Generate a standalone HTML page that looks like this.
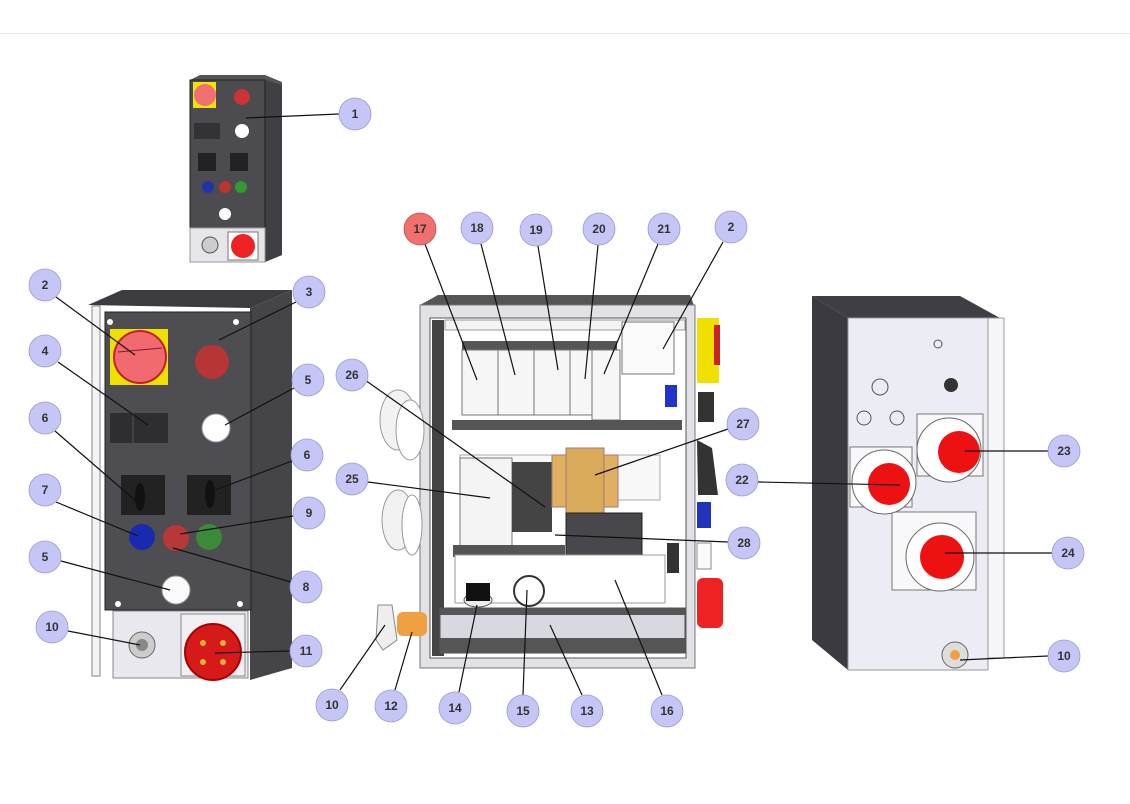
<!DOCTYPE html>
<html><head><meta charset="utf-8"><style>
html,body{margin:0;padding:0;background:#fff;width:1130px;height:804px;overflow:hidden}
svg{display:block}
text{font-family:"Liberation Sans",sans-serif;font-weight:bold;font-size:12px;fill:#333;text-anchor:middle;dominant-baseline:central}
</style></head><body>
<svg width="1130" height="804" viewBox="0 0 1130 804">
<line x1="0" y1="33.5" x2="1130" y2="33.5" stroke="#e6e6e6"/>

<!-- small top box -->
<polygon points="190,80 200,75 265,75 282,82 282,255 265,262 190,262" fill="#555"/>
<polygon points="265,80 282,85 282,255 265,262" fill="#3f3f44"/>
<rect x="190" y="80" width="75" height="150" fill="#4b4b50" stroke="#222"/>
<rect x="190" y="228" width="75" height="34" fill="#e6e6ea" stroke="#999"/>
<rect x="193" y="82" width="23" height="26" fill="#f2e400"/>
<circle cx="205" cy="95" r="11" fill="#f07070"/>
<circle cx="242" cy="97" r="8" fill="#c33"/>
<rect x="194" y="123" width="26" height="16" fill="#333"/>
<circle cx="242" cy="131" r="7" fill="#fff"/>
<rect x="198" y="153" width="18" height="18" fill="#222"/>
<rect x="230" y="153" width="18" height="18" fill="#222"/>
<circle cx="208" cy="187" r="6" fill="#23a"/><circle cx="225" cy="187" r="6" fill="#b33"/><circle cx="241" cy="187" r="6" fill="#393"/>
<circle cx="225" cy="214" r="6" fill="#fff"/>
<circle cx="210" cy="245" r="8" fill="#ccc" stroke="#555"/>
<rect x="228" y="232" width="30" height="28" fill="#fff" stroke="#777"/>
<circle cx="243" cy="246" r="12" fill="#e22"/>

<!-- left box -->
<polygon points="88,305 122,290 292,290 250,308" fill="#3c3c40"/>
<polygon points="250,308 292,290 292,668 250,680" fill="#444449"/>
<rect x="92" y="306" width="8" height="370" fill="#f4f4f6" stroke="#888"/>
<rect x="105" y="312" width="146" height="298" fill="#4d4d52" stroke="#222"/>
<rect x="113" y="611" width="135" height="67" fill="#e8e8ee" stroke="#888"/>
<circle cx="110" cy="322" r="3" fill="#fff"/><circle cx="236" cy="322" r="3" fill="#fff"/>
<circle cx="118" cy="604" r="3" fill="#fff"/><circle cx="240" cy="604" r="3" fill="#fff"/>
<rect x="110" y="329" width="58" height="56" fill="#f0e000"/>
<circle cx="140" cy="357" r="26" fill="#f06a70" stroke="#c02030" stroke-width="2"/>
<line x1="118" y1="352" x2="162" y2="348" stroke="#722"/>
<circle cx="212" cy="362" r="17" fill="#b83535"/>
<rect x="110" y="413" width="58" height="30" fill="#2e2e30"/>
<line x1="133" y1="413" x2="133" y2="443" stroke="#555"/>
<circle cx="216" cy="428" r="14" fill="#fff" stroke="#999"/>
<rect x="121" y="475" width="44" height="40" fill="#222"/>
<rect x="187" y="475" width="44" height="40" fill="#222"/>
<ellipse cx="140" cy="497" rx="5" ry="14" fill="#111"/><ellipse cx="210" cy="494" rx="5" ry="14" fill="#111"/>
<circle cx="142" cy="537" r="13" fill="#1a2ab0"/>
<circle cx="176" cy="538" r="13" fill="#b83838"/>
<circle cx="209" cy="537" r="13" fill="#3a8a3a"/>
<circle cx="176" cy="590" r="14" fill="#fafafa" stroke="#999"/>
<circle cx="142" cy="645" r="13" fill="#ccc" stroke="#666"/>
<circle cx="142" cy="645" r="6" fill="#888"/>
<rect x="181" y="614" width="64" height="62" fill="#f0f0f4" stroke="#888"/>
<circle cx="213" cy="652" r="28" fill="#d61a1a" stroke="#a00" stroke-width="2"/>
<circle cx="203" cy="643" r="3" fill="#d9b43a"/><circle cx="223" cy="643" r="3" fill="#d9b43a"/><circle cx="203" cy="662" r="3" fill="#d9b43a"/><circle cx="223" cy="662" r="3" fill="#d9b43a"/>

<!-- middle box -->
<polygon points="420,305 438,295 690,295 695,308" fill="#555"/>
<rect x="420" y="305" width="275" height="363" fill="#e2e2e6" stroke="#777"/>
<rect x="430" y="318" width="256" height="340" fill="#fff" stroke="#555"/>
<rect x="432" y="320" width="12" height="336" fill="#444"/>
<rect x="445" y="320" width="240" height="10" fill="#f4f4f4" stroke="#999"/>
<rect x="462" y="341" width="155" height="9" fill="#555"/>
<rect x="462" y="350" width="36" height="65" fill="#f6f6f6" stroke="#777"/>
<rect x="498" y="350" width="36" height="65" fill="#f6f6f6" stroke="#777"/>
<rect x="534" y="350" width="36" height="65" fill="#f6f6f6" stroke="#777"/>
<rect x="570" y="350" width="22" height="65" fill="#f6f6f6" stroke="#777"/>
<rect x="592" y="350" width="28" height="70" fill="#f6f6f6" stroke="#777"/>
<rect x="622" y="322" width="52" height="52" fill="#fafafa" stroke="#777"/>
<rect x="452" y="420" width="230" height="10" fill="#555"/>
<rect x="460" y="455" width="200" height="45" fill="#f8f8f8" stroke="#aaa"/>
<rect x="460" y="458" width="52" height="95" fill="#f4f4f4" stroke="#777"/>
<rect x="512" y="462" width="40" height="70" fill="#444"/>
<rect x="552" y="455" width="66" height="52" fill="#deb060" stroke="#a77"/>
<rect x="566" y="448" width="38" height="66" fill="#d9aa5a" stroke="#a77"/>
<rect x="566" y="513" width="76" height="80" fill="#48484c" stroke="#222"/>
<rect x="453" y="545" width="112" height="12" fill="#555"/>
<rect x="455" y="555" width="210" height="48" fill="#fff" stroke="#999"/>
<ellipse cx="478" cy="600" rx="14" ry="7" fill="#eee" stroke="#555"/>
<rect x="466" y="583" width="24" height="18" fill="#111"/>
<circle cx="529" cy="591" r="15" fill="#fff" stroke="#333" stroke-width="2"/>
<rect x="440" y="608" width="245" height="45" fill="#d8d8e0" stroke="#555"/>
<rect x="440" y="608" width="245" height="7" fill="#555"/>
<rect x="440" y="638" width="245" height="15" fill="#555"/>
<rect x="697" y="318" width="22" height="65" fill="#f0e000"/>
<rect x="714" y="325" width="6" height="40" fill="#c22"/>
<rect x="665" y="385" width="12" height="22" fill="#2233cc"/>
<rect x="698" y="392" width="16" height="30" fill="#333"/>
<polygon points="697,440 712,448 718,495 698,495" fill="#333"/>
<rect x="697" y="502" width="14" height="26" fill="#2233bb"/>
<rect x="697" y="543" width="14" height="26" fill="#fafafa" stroke="#888"/>
<rect x="697" y="578" width="26" height="50" rx="6" fill="#e22"/>
<rect x="667" y="543" width="12" height="30" fill="#333"/>
<ellipse cx="398" cy="420" rx="18" ry="30" fill="#f2f2f2" stroke="#999"/>
<ellipse cx="410" cy="430" rx="14" ry="30" fill="#fff" stroke="#999"/>
<ellipse cx="398" cy="520" rx="16" ry="30" fill="#f2f2f2" stroke="#999"/>
<ellipse cx="412" cy="525" rx="10" ry="30" fill="#fff" stroke="#999"/>
<rect x="397" y="612" width="30" height="24" rx="6" fill="#f0a040"/>
<polygon points="378,605 392,605 397,640 383,650 376,640" fill="#eee" stroke="#888"/>

<!-- right box -->
<polygon points="812,296 960,296 1000,318 848,318" fill="#3e3e44"/>
<polygon points="812,296 848,318 848,670 812,640" fill="#3a3a40"/>
<rect x="988" y="318" width="16" height="340" fill="#f6f6f8" stroke="#999"/>
<rect x="848" y="318" width="140" height="352" fill="#ececf4" stroke="#999"/>
<circle cx="938" cy="344" r="4" fill="none" stroke="#555"/>
<circle cx="880" cy="387" r="8" fill="none" stroke="#555"/>
<circle cx="951" cy="385" r="7" fill="#333"/>
<circle cx="864" cy="418" r="7" fill="none" stroke="#555"/>
<circle cx="897" cy="418" r="7" fill="none" stroke="#555"/>
<rect x="850" y="447" width="62" height="60" fill="#f8f8fa" stroke="#777"/>
<rect x="917" y="414" width="66" height="62" fill="#f8f8fa" stroke="#777"/>
<rect x="892" y="512" width="84" height="78" fill="#f8f8fa" stroke="#777"/>
<circle cx="949" cy="450" r="32" fill="#fff" stroke="#666"/><circle cx="959" cy="452" r="21" fill="#ee1111"/>
<circle cx="884" cy="482" r="32" fill="#fff" stroke="#666"/><circle cx="889" cy="484" r="21" fill="#ee1111"/>
<circle cx="940" cy="557" r="34" fill="#fff" stroke="#666"/><circle cx="942" cy="557" r="22" fill="#ee1111"/>
<circle cx="955" cy="655" r="13" fill="#ddd" stroke="#666"/><circle cx="955" cy="655" r="5" fill="#f0a040"/>

<!-- leader lines -->
<g stroke="#111" stroke-width="1.2">
<line x1="339" y1="114" x2="246" y2="118"/>
<line x1="425" y1="244" x2="477" y2="380"/>
<line x1="481" y1="244" x2="515" y2="375"/>
<line x1="538" y1="246" x2="558" y2="370"/>
<line x1="598" y1="245" x2="585" y2="379"/>
<line x1="658" y1="244" x2="604" y2="374"/>
<line x1="723" y1="242" x2="663" y2="349"/>
<line x1="56" y1="297" x2="135" y2="355"/>
<line x1="296" y1="302" x2="219" y2="340"/>
<line x1="58" y1="362" x2="148" y2="425"/>
<line x1="294" y1="388" x2="225" y2="425"/>
<line x1="55" y1="431" x2="137" y2="502"/>
<line x1="292" y1="461" x2="210" y2="492"/>
<line x1="56" y1="502" x2="138" y2="536"/>
<line x1="293" y1="516" x2="180" y2="534"/>
<line x1="291" y1="582" x2="173" y2="548"/>
<line x1="61" y1="561" x2="170" y2="590"/>
<line x1="68" y1="631" x2="140" y2="645"/>
<line x1="290" y1="651" x2="215" y2="653"/>
<line x1="365" y1="380" x2="545" y2="507"/>
<line x1="368" y1="482" x2="490" y2="498"/>
<line x1="728" y1="429" x2="595" y2="475"/>
<line x1="728" y1="542" x2="555" y2="535"/>
<line x1="758" y1="482" x2="900" y2="485"/>
<line x1="1048" y1="451" x2="965" y2="451"/>
<line x1="1052" y1="553" x2="945" y2="553"/>
<line x1="1048" y1="656" x2="960" y2="660"/>
<line x1="340" y1="690" x2="385" y2="625"/>
<line x1="395" y1="690" x2="412" y2="632"/>
<line x1="459" y1="692" x2="477" y2="605"/>
<line x1="523" y1="695" x2="527" y2="590"/>
<line x1="582" y1="695" x2="550" y2="625"/>
<line x1="662" y1="695" x2="615" y2="580"/>
</g>

<!-- callouts -->
<g fill="#c6c6f6" stroke="#9a9ad0" stroke-width="0.8">
<circle cx="355" cy="114" r="16"/>
<circle cx="420" cy="229" r="16" fill="#f07070" stroke="#c05050"/>
<circle cx="477" cy="228" r="16"/><circle cx="536" cy="230" r="16"/><circle cx="599" cy="229" r="16"/><circle cx="664" cy="229" r="16"/><circle cx="731" cy="227" r="16"/>
<circle cx="45" cy="285" r="16"/><circle cx="309" cy="292" r="16"/><circle cx="45" cy="351" r="16"/><circle cx="308" cy="380" r="16"/><circle cx="45" cy="418" r="16"/><circle cx="307" cy="455" r="16"/><circle cx="45" cy="490" r="16"/><circle cx="309" cy="513" r="16"/><circle cx="306" cy="587" r="16"/><circle cx="45" cy="557" r="16"/><circle cx="52" cy="627" r="16"/><circle cx="306" cy="651" r="16"/>
<circle cx="352" cy="375" r="16"/><circle cx="352" cy="479" r="16"/><circle cx="743" cy="424" r="16"/><circle cx="744" cy="543" r="16"/><circle cx="742" cy="480" r="16"/><circle cx="1064" cy="451" r="16"/><circle cx="1068" cy="553" r="16"/><circle cx="1064" cy="656" r="16"/>
<circle cx="332" cy="705" r="16"/><circle cx="391" cy="706" r="16"/><circle cx="455" cy="708" r="16"/><circle cx="523" cy="711" r="16"/><circle cx="587" cy="711" r="16"/><circle cx="667" cy="711" r="16"/>
</g>
<g>
<text x="355" y="114">1</text>
<text x="420" y="229">17</text><text x="477" y="228">18</text><text x="536" y="230">19</text><text x="599" y="229">20</text><text x="664" y="229">21</text><text x="731" y="227">2</text>
<text x="45" y="285">2</text><text x="309" y="292">3</text><text x="45" y="351">4</text><text x="308" y="380">5</text><text x="45" y="418">6</text><text x="307" y="455">6</text><text x="45" y="490">7</text><text x="309" y="513">9</text><text x="306" y="587">8</text><text x="45" y="557">5</text><text x="52" y="627">10</text><text x="306" y="651">11</text>
<text x="352" y="375">26</text><text x="352" y="479">25</text><text x="743" y="424">27</text><text x="744" y="543">28</text><text x="742" y="480">22</text><text x="1064" y="451">23</text><text x="1068" y="553">24</text><text x="1064" y="656">10</text>
<text x="332" y="705">10</text><text x="391" y="706">12</text><text x="455" y="708">14</text><text x="523" y="711">15</text><text x="587" y="711">13</text><text x="667" y="711">16</text>
</g>
</svg>
</body></html>
